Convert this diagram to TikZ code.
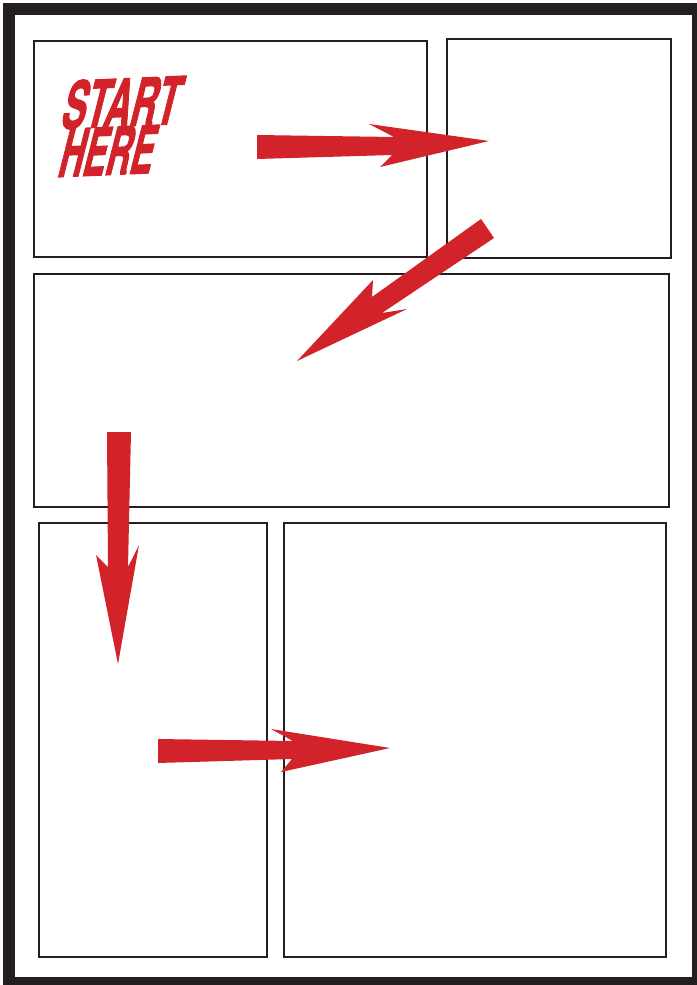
\documentclass[tikz,border=0pt]{standalone}
\usepackage{fontspec}
\setmainfont{TeX Gyre Heros}
\newfontfamily\comicfont[FakeBold=2.2]{TeX Gyre Heros}
\definecolor{comicred}{HTML}{D2232A}
\definecolor{inkdark}{HTML}{231F20}
\begin{document}
\begin{tikzpicture}[x=1pt,y=-1pt,
  panel/.style={draw=inkdark,line width=2pt},
  bigarrow/.style={fill=comicred,draw=none},
  title/.style={text=comicred,font=\comicfont\fontsize{65}{65}\bfseries\selectfont,inner sep=0pt,anchor=base west,transform shape}]
\useasboundingbox (0,0) rectangle (696,985);
\fill[white] (0,0) rectangle (696,985);
% outer page frame
\draw[draw=inkdark,line width=12pt] (9,9) rectangle (698,983);
% panels
\draw[panel] (34,41) rectangle (427,257);
\draw[panel] (447,39) rectangle (671,258);
\draw[panel] (34,274) rectangle (669,507);
\draw[panel] (39,523) rectangle (267,957);
\draw[panel] (284,523) rectangle (666,957);
% START HERE
\begin{scope}[shift={(59,129)}]
  \node[title,rotate=2.5,xslant=0.3,xscale=0.55] (start) at (0,0) {START};
\end{scope}
\begin{scope}[shift={(56,177)}]
  \node[title,rotate=2.5,xslant=0.3,xscale=0.52] (here) at (0,0) {HERE};
\end{scope}
% arrows
\fill[bigarrow] (257,135) -- (394,137) -- (369,124) -- (489,141) -- (380,167) -- (392,155) -- (257,159) -- cycle;
\fill[bigarrow] (481,219) -- (372,297) -- (373,280) -- (297,361) -- (407,309) -- (382,313) -- (494,238) -- cycle;
\fill[bigarrow] (107,432) -- (131,432) -- (128,567) -- (139,545) -- (118,664) -- (96,555) -- (108,567) -- cycle;
\fill[bigarrow] (158,739) -- (293,741) -- (271,729) -- (390,748) -- (281,772) -- (292,759) -- (158,763) -- cycle;
\end{tikzpicture}
\end{document}
